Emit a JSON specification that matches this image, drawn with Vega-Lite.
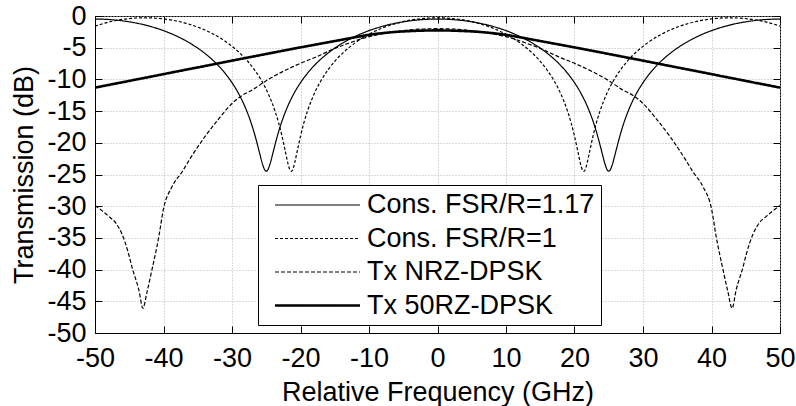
{
"$schema": "https://vega.github.io/schema/vega-lite/v6.json",
"width": 685, "height": 317,
"autosize": "none",
"padding": {"left": 95, "top": 16, "right": 16, "bottom": 73},
"background": "white",
"config": {"view": {"stroke": "black", "strokeWidth": 1}, "font": "Liberation Sans"},
"data": {"values": [
{"s":"Cons. FSR/R=1.17","f":-50,"v":-0.48},{"s":"Cons. FSR/R=1.17","f":-48,"v":-0.55},{"s":"Cons. FSR/R=1.17","f":-46,"v":-0.76},{"s":"Cons. FSR/R=1.17","f":-44,"v":-1.11},{"s":"Cons. FSR/R=1.17","f":-42,"v":-1.62},{"s":"Cons. FSR/R=1.17","f":-40,"v":-2.31},{"s":"Cons. FSR/R=1.17","f":-38,"v":-3.21},{"s":"Cons. FSR/R=1.17","f":-36,"v":-4.37},{"s":"Cons. FSR/R=1.17","f":-34,"v":-5.86},{"s":"Cons. FSR/R=1.17","f":-32,"v":-7.82},{"s":"Cons. FSR/R=1.17","f":-31,"v":-9.05},{"s":"Cons. FSR/R=1.17","f":-30,"v":-10.52},{"s":"Cons. FSR/R=1.17","f":-29,"v":-12.31},{"s":"Cons. FSR/R=1.17","f":-28,"v":-14.58},{"s":"Cons. FSR/R=1.17","f":-27,"v":-17.55},{"s":"Cons. FSR/R=1.17","f":-26.5,"v":-19.41},{"s":"Cons. FSR/R=1.17","f":-26,"v":-21.5},{"s":"Cons. FSR/R=1.17","f":-25.5,"v":-23.52},{"s":"Cons. FSR/R=1.17","f":-25.25,"v":-24.22},{"s":"Cons. FSR/R=1.17","f":-25,"v":-24.48},{"s":"Cons. FSR/R=1.17","f":-24.75,"v":-24.22},{"s":"Cons. FSR/R=1.17","f":-24.5,"v":-23.52},{"s":"Cons. FSR/R=1.17","f":-24,"v":-21.5},{"s":"Cons. FSR/R=1.17","f":-23.5,"v":-19.41},{"s":"Cons. FSR/R=1.17","f":-23,"v":-17.55},{"s":"Cons. FSR/R=1.17","f":-22,"v":-14.58},{"s":"Cons. FSR/R=1.17","f":-21,"v":-12.31},{"s":"Cons. FSR/R=1.17","f":-20,"v":-10.52},{"s":"Cons. FSR/R=1.17","f":-19,"v":-9.05},{"s":"Cons. FSR/R=1.17","f":-18,"v":-7.82},{"s":"Cons. FSR/R=1.17","f":-16,"v":-5.86},{"s":"Cons. FSR/R=1.17","f":-14,"v":-4.37},{"s":"Cons. FSR/R=1.17","f":-12,"v":-3.21},{"s":"Cons. FSR/R=1.17","f":-10,"v":-2.31},{"s":"Cons. FSR/R=1.17","f":-8,"v":-1.62},{"s":"Cons. FSR/R=1.17","f":-6,"v":-1.11},{"s":"Cons. FSR/R=1.17","f":-4,"v":-0.76},{"s":"Cons. FSR/R=1.17","f":-2,"v":-0.55},{"s":"Cons. FSR/R=1.17","f":0,"v":-0.48},{"s":"Cons. FSR/R=1.17","f":2,"v":-0.55},{"s":"Cons. FSR/R=1.17","f":4,"v":-0.76},{"s":"Cons. FSR/R=1.17","f":6,"v":-1.11},{"s":"Cons. FSR/R=1.17","f":8,"v":-1.62},{"s":"Cons. FSR/R=1.17","f":10,"v":-2.31},{"s":"Cons. FSR/R=1.17","f":12,"v":-3.21},{"s":"Cons. FSR/R=1.17","f":14,"v":-4.37},{"s":"Cons. FSR/R=1.17","f":16,"v":-5.86},{"s":"Cons. FSR/R=1.17","f":18,"v":-7.82},{"s":"Cons. FSR/R=1.17","f":19,"v":-9.05},{"s":"Cons. FSR/R=1.17","f":20,"v":-10.52},{"s":"Cons. FSR/R=1.17","f":21,"v":-12.31},{"s":"Cons. FSR/R=1.17","f":22,"v":-14.58},{"s":"Cons. FSR/R=1.17","f":23,"v":-17.55},{"s":"Cons. FSR/R=1.17","f":23.5,"v":-19.41},{"s":"Cons. FSR/R=1.17","f":24,"v":-21.5},{"s":"Cons. FSR/R=1.17","f":24.5,"v":-23.52},{"s":"Cons. FSR/R=1.17","f":24.75,"v":-24.22},{"s":"Cons. FSR/R=1.17","f":25,"v":-24.48},{"s":"Cons. FSR/R=1.17","f":25.25,"v":-24.22},{"s":"Cons. FSR/R=1.17","f":25.5,"v":-23.52},{"s":"Cons. FSR/R=1.17","f":26,"v":-21.5},{"s":"Cons. FSR/R=1.17","f":26.5,"v":-19.41},{"s":"Cons. FSR/R=1.17","f":27,"v":-17.55},{"s":"Cons. FSR/R=1.17","f":28,"v":-14.58},{"s":"Cons. FSR/R=1.17","f":29,"v":-12.31},{"s":"Cons. FSR/R=1.17","f":30,"v":-10.52},{"s":"Cons. FSR/R=1.17","f":31,"v":-9.05},{"s":"Cons. FSR/R=1.17","f":32,"v":-7.82},{"s":"Cons. FSR/R=1.17","f":34,"v":-5.86},{"s":"Cons. FSR/R=1.17","f":36,"v":-4.37},{"s":"Cons. FSR/R=1.17","f":38,"v":-3.21},{"s":"Cons. FSR/R=1.17","f":40,"v":-2.31},{"s":"Cons. FSR/R=1.17","f":42,"v":-1.62},{"s":"Cons. FSR/R=1.17","f":44,"v":-1.11},{"s":"Cons. FSR/R=1.17","f":46,"v":-0.76},{"s":"Cons. FSR/R=1.17","f":48,"v":-0.55},{"s":"Cons. FSR/R=1.17","f":50,"v":-0.48},
{"s":"Cons. FSR/R=1","f":-50,"v":-1.6},{"s":"Cons. FSR/R=1","f":-48.7,"v":-1.16},{"s":"Cons. FSR/R=1","f":-46.7,"v":-0.66},{"s":"Cons. FSR/R=1","f":-44.7,"v":-0.38},{"s":"Cons. FSR/R=1","f":-42.7,"v":-0.28},{"s":"Cons. FSR/R=1","f":-40.7,"v":-0.38},{"s":"Cons. FSR/R=1","f":-38.7,"v":-0.66},{"s":"Cons. FSR/R=1","f":-36.7,"v":-1.16},{"s":"Cons. FSR/R=1","f":-34.7,"v":-1.88},{"s":"Cons. FSR/R=1","f":-32.7,"v":-2.87},{"s":"Cons. FSR/R=1","f":-30.7,"v":-4.21},{"s":"Cons. FSR/R=1","f":-28.7,"v":-6.01},{"s":"Cons. FSR/R=1","f":-27.7,"v":-7.14},{"s":"Cons. FSR/R=1","f":-26.7,"v":-8.52},{"s":"Cons. FSR/R=1","f":-25.7,"v":-10.18},{"s":"Cons. FSR/R=1","f":-24.7,"v":-12.28},{"s":"Cons. FSR/R=1","f":-23.7,"v":-15.06},{"s":"Cons. FSR/R=1","f":-23.2,"v":-16.83},{"s":"Cons. FSR/R=1","f":-22.7,"v":-18.95},{"s":"Cons. FSR/R=1","f":-22.2,"v":-21.43},{"s":"Cons. FSR/R=1","f":-21.7,"v":-23.8},{"s":"Cons. FSR/R=1","f":-21.525,"v":-24.32},{"s":"Cons. FSR/R=1","f":-21.35,"v":-24.5},{"s":"Cons. FSR/R=1","f":-21.175,"v":-24.32},{"s":"Cons. FSR/R=1","f":-21,"v":-23.8},{"s":"Cons. FSR/R=1","f":-20.5,"v":-21.43},{"s":"Cons. FSR/R=1","f":-20,"v":-18.95},{"s":"Cons. FSR/R=1","f":-19.5,"v":-16.83},{"s":"Cons. FSR/R=1","f":-19,"v":-15.06},{"s":"Cons. FSR/R=1","f":-18,"v":-12.28},{"s":"Cons. FSR/R=1","f":-17,"v":-10.18},{"s":"Cons. FSR/R=1","f":-16,"v":-8.52},{"s":"Cons. FSR/R=1","f":-15,"v":-7.14},{"s":"Cons. FSR/R=1","f":-14,"v":-6.01},{"s":"Cons. FSR/R=1","f":-12,"v":-4.21},{"s":"Cons. FSR/R=1","f":-10,"v":-2.87},{"s":"Cons. FSR/R=1","f":-8,"v":-1.88},{"s":"Cons. FSR/R=1","f":-6,"v":-1.16},{"s":"Cons. FSR/R=1","f":-4,"v":-0.66},{"s":"Cons. FSR/R=1","f":-2,"v":-0.38},{"s":"Cons. FSR/R=1","f":0,"v":-0.28},{"s":"Cons. FSR/R=1","f":2,"v":-0.38},{"s":"Cons. FSR/R=1","f":4,"v":-0.66},{"s":"Cons. FSR/R=1","f":6,"v":-1.16},{"s":"Cons. FSR/R=1","f":8,"v":-1.88},{"s":"Cons. FSR/R=1","f":10,"v":-2.87},{"s":"Cons. FSR/R=1","f":12,"v":-4.21},{"s":"Cons. FSR/R=1","f":14,"v":-6.01},{"s":"Cons. FSR/R=1","f":15,"v":-7.14},{"s":"Cons. FSR/R=1","f":16,"v":-8.52},{"s":"Cons. FSR/R=1","f":17,"v":-10.18},{"s":"Cons. FSR/R=1","f":18,"v":-12.28},{"s":"Cons. FSR/R=1","f":19,"v":-15.06},{"s":"Cons. FSR/R=1","f":19.5,"v":-16.83},{"s":"Cons. FSR/R=1","f":20,"v":-18.95},{"s":"Cons. FSR/R=1","f":20.5,"v":-21.43},{"s":"Cons. FSR/R=1","f":21,"v":-23.8},{"s":"Cons. FSR/R=1","f":21.175,"v":-24.32},{"s":"Cons. FSR/R=1","f":21.35,"v":-24.5},{"s":"Cons. FSR/R=1","f":21.525,"v":-24.32},{"s":"Cons. FSR/R=1","f":21.7,"v":-23.8},{"s":"Cons. FSR/R=1","f":22.2,"v":-21.43},{"s":"Cons. FSR/R=1","f":22.7,"v":-18.95},{"s":"Cons. FSR/R=1","f":23.2,"v":-16.83},{"s":"Cons. FSR/R=1","f":23.7,"v":-15.06},{"s":"Cons. FSR/R=1","f":24.7,"v":-12.28},{"s":"Cons. FSR/R=1","f":25.7,"v":-10.18},{"s":"Cons. FSR/R=1","f":26.7,"v":-8.52},{"s":"Cons. FSR/R=1","f":27.7,"v":-7.14},{"s":"Cons. FSR/R=1","f":28.7,"v":-6.01},{"s":"Cons. FSR/R=1","f":30.7,"v":-4.21},{"s":"Cons. FSR/R=1","f":32.7,"v":-2.87},{"s":"Cons. FSR/R=1","f":34.7,"v":-1.88},{"s":"Cons. FSR/R=1","f":36.7,"v":-1.16},{"s":"Cons. FSR/R=1","f":38.7,"v":-0.66},{"s":"Cons. FSR/R=1","f":40.7,"v":-0.38},{"s":"Cons. FSR/R=1","f":42.7,"v":-0.28},{"s":"Cons. FSR/R=1","f":44.7,"v":-0.38},{"s":"Cons. FSR/R=1","f":46.7,"v":-0.66},{"s":"Cons. FSR/R=1","f":48.7,"v":-1.16},{"s":"Cons. FSR/R=1","f":50,"v":-1.6},
{"s":"Tx NRZ-DPSK","f":-50,"v":-29.9},{"s":"Tx NRZ-DPSK","f":-49,"v":-30.7},{"s":"Tx NRZ-DPSK","f":-48,"v":-31.6},{"s":"Tx NRZ-DPSK","f":-47,"v":-32.6},{"s":"Tx NRZ-DPSK","f":-46.1,"v":-34.3},{"s":"Tx NRZ-DPSK","f":-45.1,"v":-37.5},{"s":"Tx NRZ-DPSK","f":-44.6,"v":-39.6},{"s":"Tx NRZ-DPSK","f":-43.6,"v":-43.2},{"s":"Tx NRZ-DPSK","f":-43,"v":-46.1},{"s":"Tx NRZ-DPSK","f":-42.4,"v":-43.5},{"s":"Tx NRZ-DPSK","f":-41.7,"v":-40.1},{"s":"Tx NRZ-DPSK","f":-40.7,"v":-34.9},{"s":"Tx NRZ-DPSK","f":-40,"v":-30.4},{"s":"Tx NRZ-DPSK","f":-38.8,"v":-27.0},{"s":"Tx NRZ-DPSK","f":-37.3,"v":-24.6},{"s":"Tx NRZ-DPSK","f":-36,"v":-22.3},{"s":"Tx NRZ-DPSK","f":-34,"v":-19.1},{"s":"Tx NRZ-DPSK","f":-32,"v":-16.3},{"s":"Tx NRZ-DPSK","f":-30,"v":-13.8},{"s":"Tx NRZ-DPSK","f":-28.5,"v":-12.5},{"s":"Tx NRZ-DPSK","f":-27.1,"v":-11.7},{"s":"Tx NRZ-DPSK","f":-25,"v":-10.2},{"s":"Tx NRZ-DPSK","f":-23.2,"v":-9.1},{"s":"Tx NRZ-DPSK","f":-20.3,"v":-7.6},{"s":"Tx NRZ-DPSK","f":-17.6,"v":-6.4},{"s":"Tx NRZ-DPSK","f":-15.4,"v":-5.3},{"s":"Tx NRZ-DPSK","f":-13,"v":-4.3},{"s":"Tx NRZ-DPSK","f":-10.5,"v":-3.4},{"s":"Tx NRZ-DPSK","f":-8,"v":-2.8},{"s":"Tx NRZ-DPSK","f":-5,"v":-2.3},{"s":"Tx NRZ-DPSK","f":-2,"v":-2.05},{"s":"Tx NRZ-DPSK","f":0,"v":-2.0},{"s":"Tx NRZ-DPSK","f":2,"v":-2.05},{"s":"Tx NRZ-DPSK","f":5,"v":-2.3},{"s":"Tx NRZ-DPSK","f":8,"v":-2.8},{"s":"Tx NRZ-DPSK","f":10.5,"v":-3.4},{"s":"Tx NRZ-DPSK","f":13,"v":-4.3},{"s":"Tx NRZ-DPSK","f":15.4,"v":-5.3},{"s":"Tx NRZ-DPSK","f":17.6,"v":-6.4},{"s":"Tx NRZ-DPSK","f":20.3,"v":-7.6},{"s":"Tx NRZ-DPSK","f":23.2,"v":-9.1},{"s":"Tx NRZ-DPSK","f":25,"v":-10.2},{"s":"Tx NRZ-DPSK","f":27.1,"v":-11.7},{"s":"Tx NRZ-DPSK","f":28.5,"v":-12.5},{"s":"Tx NRZ-DPSK","f":30,"v":-13.8},{"s":"Tx NRZ-DPSK","f":32,"v":-16.3},{"s":"Tx NRZ-DPSK","f":34,"v":-19.1},{"s":"Tx NRZ-DPSK","f":36,"v":-22.3},{"s":"Tx NRZ-DPSK","f":37.3,"v":-24.6},{"s":"Tx NRZ-DPSK","f":38.8,"v":-27.0},{"s":"Tx NRZ-DPSK","f":40,"v":-30.4},{"s":"Tx NRZ-DPSK","f":40.7,"v":-34.9},{"s":"Tx NRZ-DPSK","f":41.7,"v":-40.1},{"s":"Tx NRZ-DPSK","f":42.4,"v":-43.5},{"s":"Tx NRZ-DPSK","f":43,"v":-46.1},{"s":"Tx NRZ-DPSK","f":43.6,"v":-43.2},{"s":"Tx NRZ-DPSK","f":44.6,"v":-39.6},{"s":"Tx NRZ-DPSK","f":45.1,"v":-37.5},{"s":"Tx NRZ-DPSK","f":46.1,"v":-34.3},{"s":"Tx NRZ-DPSK","f":47,"v":-32.6},{"s":"Tx NRZ-DPSK","f":48,"v":-31.6},{"s":"Tx NRZ-DPSK","f":49,"v":-30.7},{"s":"Tx NRZ-DPSK","f":50,"v":-29.9},
{"s":"Tx 50RZ-DPSK","f":-50,"v":-11.3},{"s":"Tx 50RZ-DPSK","f":-48,"v":-10.87},{"s":"Tx 50RZ-DPSK","f":-46,"v":-10.45},{"s":"Tx 50RZ-DPSK","f":-44,"v":-10.02},{"s":"Tx 50RZ-DPSK","f":-42,"v":-9.6},{"s":"Tx 50RZ-DPSK","f":-40,"v":-9.17},{"s":"Tx 50RZ-DPSK","f":-38,"v":-8.74},{"s":"Tx 50RZ-DPSK","f":-36,"v":-8.32},{"s":"Tx 50RZ-DPSK","f":-34,"v":-7.9},{"s":"Tx 50RZ-DPSK","f":-32,"v":-7.47},{"s":"Tx 50RZ-DPSK","f":-30,"v":-7.04},{"s":"Tx 50RZ-DPSK","f":-28,"v":-6.62},{"s":"Tx 50RZ-DPSK","f":-26,"v":-6.2},{"s":"Tx 50RZ-DPSK","f":-24,"v":-5.78},{"s":"Tx 50RZ-DPSK","f":-22,"v":-5.36},{"s":"Tx 50RZ-DPSK","f":-20,"v":-4.95},{"s":"Tx 50RZ-DPSK","f":-18,"v":-4.55},{"s":"Tx 50RZ-DPSK","f":-16,"v":-4.15},{"s":"Tx 50RZ-DPSK","f":-14,"v":-3.75},{"s":"Tx 50RZ-DPSK","f":-12,"v":-3.35},{"s":"Tx 50RZ-DPSK","f":-10,"v":-2.97},{"s":"Tx 50RZ-DPSK","f":-8,"v":-2.7},{"s":"Tx 50RZ-DPSK","f":-6,"v":-2.5},{"s":"Tx 50RZ-DPSK","f":-4,"v":-2.38},{"s":"Tx 50RZ-DPSK","f":-2,"v":-2.3},{"s":"Tx 50RZ-DPSK","f":0,"v":-2.27},{"s":"Tx 50RZ-DPSK","f":2,"v":-2.3},{"s":"Tx 50RZ-DPSK","f":4,"v":-2.38},{"s":"Tx 50RZ-DPSK","f":6,"v":-2.5},{"s":"Tx 50RZ-DPSK","f":8,"v":-2.7},{"s":"Tx 50RZ-DPSK","f":10,"v":-2.97},{"s":"Tx 50RZ-DPSK","f":12,"v":-3.35},{"s":"Tx 50RZ-DPSK","f":14,"v":-3.75},{"s":"Tx 50RZ-DPSK","f":16,"v":-4.15},{"s":"Tx 50RZ-DPSK","f":18,"v":-4.55},{"s":"Tx 50RZ-DPSK","f":20,"v":-4.95},{"s":"Tx 50RZ-DPSK","f":22,"v":-5.36},{"s":"Tx 50RZ-DPSK","f":24,"v":-5.78},{"s":"Tx 50RZ-DPSK","f":26,"v":-6.2},{"s":"Tx 50RZ-DPSK","f":28,"v":-6.62},{"s":"Tx 50RZ-DPSK","f":30,"v":-7.04},{"s":"Tx 50RZ-DPSK","f":32,"v":-7.47},{"s":"Tx 50RZ-DPSK","f":34,"v":-7.9},{"s":"Tx 50RZ-DPSK","f":36,"v":-8.32},{"s":"Tx 50RZ-DPSK","f":38,"v":-8.74},{"s":"Tx 50RZ-DPSK","f":40,"v":-9.17},{"s":"Tx 50RZ-DPSK","f":42,"v":-9.6},{"s":"Tx 50RZ-DPSK","f":44,"v":-10.02},{"s":"Tx 50RZ-DPSK","f":46,"v":-10.45},{"s":"Tx 50RZ-DPSK","f":48,"v":-10.87},{"s":"Tx 50RZ-DPSK","f":50,"v":-11.3}
]},
"layer": [
{
"mark": {"type": "line", "interpolate": "monotone", "color": "black", "clip": true},
"encoding": {
"x": {"field": "f", "type": "quantitative", "scale": {"domain": [-50, 50], "nice": false},
 "axis": {"orient": "bottom", "values": [-50,-40,-30,-20,-10,0,10,20,30,40,50], "labelExpr": "toString(datum.value)", "labelFlush": false, "labelOverlap": false, "tickSize": -7, "tickColor": "black", "domainColor": "black", "labelFontSize": 27, "labelColor": "black", "labelFont": "Liberation Sans", "labelPadding": 19, "grid": true, "gridColor": "#b4b4b4", "gridDash": [1, 2], "title": "Relative Frequency (GHz)", "titleFont": "Liberation Sans", "titleFontSize": 27, "titleFontWeight": "normal", "titleColor": "black", "titlePadding": 8}},
"y": {"field": "v", "type": "quantitative", "scale": {"domain": [-50, 0], "nice": false},
 "axis": {"orient": "left", "values": [-50,-45,-40,-35,-30,-25,-20,-15,-10,-5,0], "labelExpr": "toString(datum.value)", "labelFlush": false, "labelOverlap": false, "tickSize": -7, "tickColor": "black", "domainColor": "black", "labelFontSize": 27, "labelColor": "black", "labelFont": "Liberation Sans", "labelPadding": 16, "grid": true, "gridColor": "#b4b4b4", "gridDash": [1, 2], "title": "Transmission (dB)", "titleFont": "Liberation Sans", "titleFontSize": 27, "titleFontWeight": "normal", "titleColor": "black", "titlePadding": 8}},
"strokeDash": {"field": "s", "type": "nominal",
 "scale": {"domain": ["Cons. FSR/R=1.17", "Cons. FSR/R=1", "Tx NRZ-DPSK", "Tx 50RZ-DPSK"], "range": [[1, 0], [3, 2], [4, 2], [1, 0]]},
 "legend": {"title": null, "orient": "none", "legendX": 163, "legendY": 169, "symbolType": "M0,0L8,0", "symbolSize": 452, "symbolOffset": -3, "labelOffset": 78.5, "labelFontSize": 27, "labelFont": "Liberation Sans", "labelColor": "black", "labelLimit": 500, "rowPadding": 5.5, "padding": 6.5, "strokeColor": "black", "fillColor": "white", "symbolStrokeColor": "black", "labelExpr": "datum.label + '\u00a0\u00a0'"}},
"strokeWidth": {"field": "s", "type": "nominal",
 "scale": {"type": "ordinal", "domain": ["Cons. FSR/R=1.17", "Cons. FSR/R=1", "Tx NRZ-DPSK", "Tx 50RZ-DPSK"], "range": [1.2, 1.2, 1.2, 2.6]},
 "legend": {"title": null, "orient": "none", "legendX": 163, "legendY": 169, "symbolType": "M0,0L8,0", "symbolSize": 452, "symbolOffset": -3, "labelOffset": 78.5, "labelFontSize": 27, "labelFont": "Liberation Sans", "labelColor": "black", "labelLimit": 500, "rowPadding": 5.5, "padding": 6.5, "strokeColor": "black", "fillColor": "white", "symbolStrokeColor": "black", "labelExpr": "datum.label + '\u00a0\u00a0'"}}
}
},
{
"mark": {"type": "line", "strokeOpacity": 0},
"encoding": {
"x": {"field": "f", "type": "quantitative", "scale": {"domain": [-50, 50], "nice": false},
 "axis": {"orient": "top", "values": [-50,-40,-30,-20,-10,0,10,20,30,40,50], "labels": false, "grid": false, "domain": false, "tickSize": -7, "tickColor": "black", "title": null}},
"y": {"field": "v", "type": "quantitative", "scale": {"domain": [-50, 0], "nice": false},
 "axis": {"orient": "right", "values": [-50,-45,-40,-35,-30,-25,-20,-15,-10,-5,0], "labels": false, "grid": false, "domain": false, "tickSize": -7, "tickColor": "black", "title": null}}
}
}
],
"resolve": {"axis": {"x": "independent", "y": "independent"}}
}
